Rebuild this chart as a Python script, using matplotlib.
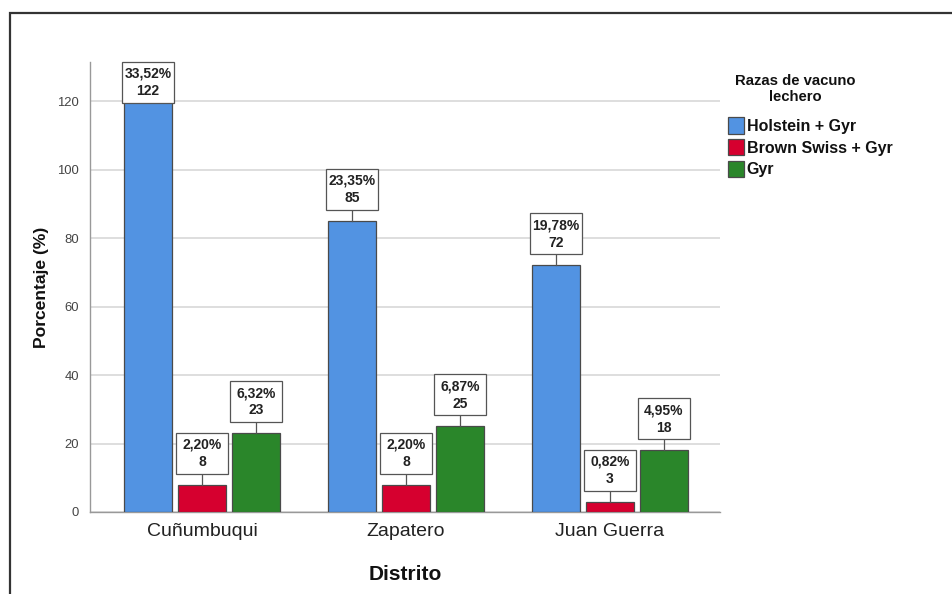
import matplotlib
matplotlib.use("Agg")
import matplotlib.pyplot as plt
from matplotlib.patches import Rectangle, Patch

plt.rcParams["font.family"] = ["Liberation Sans", "DejaVu Sans"]

districts = ["Cuñumbuqui", "Zapatero", "Juan Guerra"]
breeds = ["Holstein + Gyr", "Brown Swiss + Gyr", "Gyr"]
counts = {
    "Holstein + Gyr": [122, 85, 72],
    "Brown Swiss + Gyr": [8, 8, 3],
    "Gyr": [23, 25, 18],
}
pct_labels = {
    "Holstein + Gyr": ["33,52%", "23,35%", "19,78%"],
    "Brown Swiss + Gyr": ["2,20%", "2,20%", "0,82%"],
    "Gyr": ["6,32%", "6,87%", "4,95%"],
}
colors = ["#5293E2", "#D6002F", "#2A862A"]

W, H = 952, 594
fig = plt.figure(figsize=(W / 100, H / 100), dpi=100)
ax = fig.add_axes([90 / W, 1 - 512 / H, 630 / W, 450 / H])

YTOP = 131.4
bar_w = 0.235
step = 0.265
px_per_unit = 450 / YTOP
box_h = 41 / px_per_unit
gap = 11 / px_per_unit

for i, b in enumerate(breeds):
    xs = [g + (i - 1) * step for g in range(len(districts))]
    ax.bar(xs, counts[b], width=bar_w, color=colors[i], edgecolor="#4a4a4a",
           linewidth=0.9, zorder=3, label=b)
    for x, v, p in zip(xs, counts[b], pct_labels[b]):
        # label box sits just above the bar, pushed down if it would leave the axes
        yb = min(v + gap, YTOP - box_h)
        if yb > v:
            ax.plot([x, x], [v, yb], color="#555555", lw=0.9, zorder=4, clip_on=False)
        ax.add_patch(Rectangle((x - 26 / 204, yb), 52 / 204, box_h, fc="white",
                               ec="#555555", lw=0.9, zorder=5, clip_on=False))
        ax.text(x, yb + box_h / 2, f"{p}\n{v}", ha="center", va="center",
                fontsize=10, fontweight="bold", color="#222222",
                linespacing=1.3, zorder=6)

ax.set_xlim(-0.549, 2.54)
ax.set_ylim(0, YTOP)
ax.set_yticks(range(0, 121, 20))
ax.set_xticks(range(len(districts)))
ax.set_xticklabels(districts, fontsize=14, color="#222222")
ax.tick_params(axis="y", length=0, labelsize=9.4, labelcolor="#444444", pad=8)
ax.tick_params(axis="x", length=0, pad=8)
ax.grid(axis="y", color="#d8d8d8", lw=1.2, zorder=0)
for s in ["top", "right"]:
    ax.spines[s].set_visible(False)
for s in ["left", "bottom"]:
    ax.spines[s].set_color("#999999")
    ax.spines[s].set_linewidth(1.0)
ax.set_ylabel("Porcentaje (%)", fontsize=12.6, fontweight="bold", color="#111111", labelpad=6)
ax.set_xlabel("Distrito", fontsize=15, fontweight="bold", color="#111111", labelpad=18)

fig.text(795 / W, 1 - 89 / H, "Razas de vacuno\nlechero", ha="center", va="center",
         fontsize=10.7, fontweight="bold", color="#111111", linespacing=1.15)
handles = [Patch(facecolor=c, edgecolor="#4a4a4a", lw=0.9) for c in colors]
leg = fig.legend(handles, breeds, loc="upper left",
                 bbox_to_anchor=(722 / W, 1 - 111 / H),
                 frameon=False, handlelength=0.95, handleheight=1.2,
                 handletextpad=0.2, labelspacing=0.32, borderaxespad=0,
                 prop=dict(size=11.5, weight="bold"))
for t in leg.get_texts():
    t.set_color("#111111")

fig.add_artist(Rectangle((10 / W, -0.1), 1.2, 1 - 13 / H + 0.1, transform=fig.transFigure,
                         fill=False, ec="#333333", lw=1.6))

fig.savefig("out.png", dpi=100, facecolor="white")
